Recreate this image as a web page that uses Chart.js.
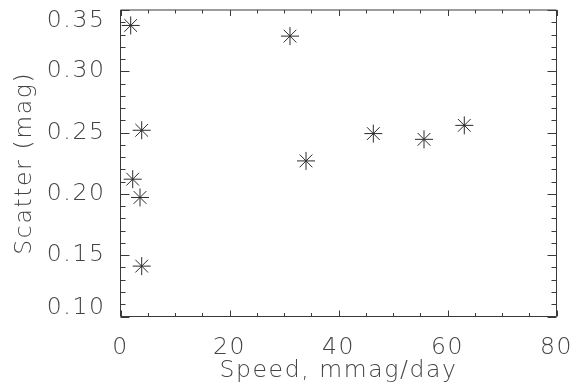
<!DOCTYPE html>
<html>
<head>
<meta charset="utf-8">
<script src="https://cdn.jsdelivr.net/npm/chart.js@4/dist/chart.umd.min.js"></script>
<style>
  html, body { margin: 0; padding: 0; background: #ffffff; }
  #wrap { width: 577px; height: 390px; position: relative; }
</style>
</head>
<body>
<div id="wrap"><canvas id="c" width="577" height="390"></canvas></div>
<script>
// ---- Data ----
const speed   = [1.87, 3.89, 2.24, 3.58, 3.89, 31.1, 34.04, 46.39, 55.69, 63.08];   // mmag/day
const scatter = [0.3374, 0.2519, 0.2120, 0.1971, 0.1411, 0.3287, 0.2269, 0.2492, 0.2445, 0.2559]; // mag

const xTickValues = [0, 20, 40, 60, 80];
const yTickValues = [0.10, 0.15, 0.20, 0.25, 0.30, 0.35];
const xMinorStep = 5;
const yMinorStep = 0.01;

const xTitle = 'Speed, mmag/day';
const yTitle = 'Scatter (mag)';

// ---- Styling ----
const FONT = { family: "'DejaVu Sans', sans-serif", size: 23.5, weight: '200' };
const TEXT_COLOR = '#444444';
const AXIS_COLOR = '#3a3a3a';

const points = speed.map((x, i) => ({ x: x, y: scatter[i] }));

// IDL-style box axes with inward major/minor ticks, drawn from the scales
const boxAxes = {
  id: 'boxAxes',
  beforeDraw(chart) {
    chart.ctx.letterSpacing = '1.6px';
    // keep the end labels of the y axis inside the plot box (like the reference)
    const ys = chart.scales.y;
    const items = ys.getLabelItems();
    if (items && items.length && !items._shifted) {
      items[0].options.translation[1] -= 9;
      items[items.length - 1].options.translation[1] += 11;
      items._shifted = true;
    }
  },
  afterDraw(chart) {
    const { ctx, chartArea: a, scales: { x, y } } = chart;
    ctx.save();
    ctx.strokeStyle = AXIS_COLOR;
    ctx.lineWidth = 1;
    ctx.beginPath();
    ctx.rect(a.left, a.top, a.right - a.left, a.bottom - a.top);
    ctx.stroke();

    const xMajLen = 6, xMinLen = 3.5, yMajLen = 9, yMinLen = 5;
    ctx.beginPath();
    // x ticks (bottom & top)
    for (let v = x.min; v <= x.max + 1e-9; v += xMinorStep) {
      const major = xTickValues.some(t => Math.abs(t - v) < 1e-6);
      const len = major ? xMajLen : xMinLen;
      const px = Math.round(x.getPixelForValue(v)) + 0.5;
      ctx.moveTo(px, a.bottom); ctx.lineTo(px, a.bottom - len);
      ctx.moveTo(px, a.top);    ctx.lineTo(px, a.top + len);
    }
    // y ticks (left & right)
    const nY = Math.round((y.max - y.min) / yMinorStep);
    for (let i = 0; i <= nY; i++) {
      const v = y.min + i * yMinorStep;
      const major = yTickValues.some(t => Math.abs(t - v) < 1e-6);
      const len = major ? yMajLen : yMinLen;
      const py = Math.round(y.getPixelForValue(v)) + 0.5;
      ctx.moveTo(a.left, py);  ctx.lineTo(a.left + len, py);
      ctx.moveTo(a.right, py); ctx.lineTo(a.right - len, py);
    }
    ctx.stroke();
    ctx.restore();
  }
};

new Chart(document.getElementById('c'), {
  type: 'scatter',
  data: {
    datasets: [{
      label: 'Scatter vs speed',
      data: points,
      pointStyle: 'star',
      pointRadius: 9,
      pointHoverRadius: 9,
      borderColor: '#2a2a2a',
      backgroundColor: 'rgba(0,0,0,0)',
      pointBorderWidth: 1,
      borderWidth: 1
    }]
  },
  options: {
    responsive: false,
    animation: false,
    events: [],
    layout: { padding: { left: 0, top: 9.5, right: 20.5, bottom: 0 } },
    plugins: { legend: { display: false }, tooltip: { enabled: false } },
    scales: {
      x: {
        type: 'linear',
        min: 0, max: 80,
        afterBuildTicks: s => { s.ticks = xTickValues.map(v => ({ value: v })); },
        ticks: {
          color: TEXT_COLOR, font: FONT, padding: 9.5, maxRotation: 0,
          callback: v => String(v)
        },
        grid: { display: false },
        border: { display: false },
        title: { display: true, text: xTitle, color: TEXT_COLOR, font: FONT, padding: { top: 0, bottom: 5.5 } },
        afterFit: s => { s.height = 73.5; s.paddingLeft = 0; s.paddingRight = 0; }
      },
      y: {
        type: 'linear',
        min: 0.10, max: 0.35,
        afterBuildTicks: s => { s.ticks = yTickValues.map(v => ({ value: v })); },
        ticks: {
          color: TEXT_COLOR, font: FONT, padding: 7,
          callback: v => Number(v).toFixed(2)
        },
        grid: { display: false },
        border: { display: false },
        title: { display: true, text: yTitle, color: TEXT_COLOR, font: FONT, padding: { top: 11, bottom: 0 } },
        afterFit: s => { s.width = 120.5; s.paddingTop = 0; s.paddingBottom = 0; }
      }
    }
  },
  plugins: [boxAxes]
});
</script>
</body>
</html>
